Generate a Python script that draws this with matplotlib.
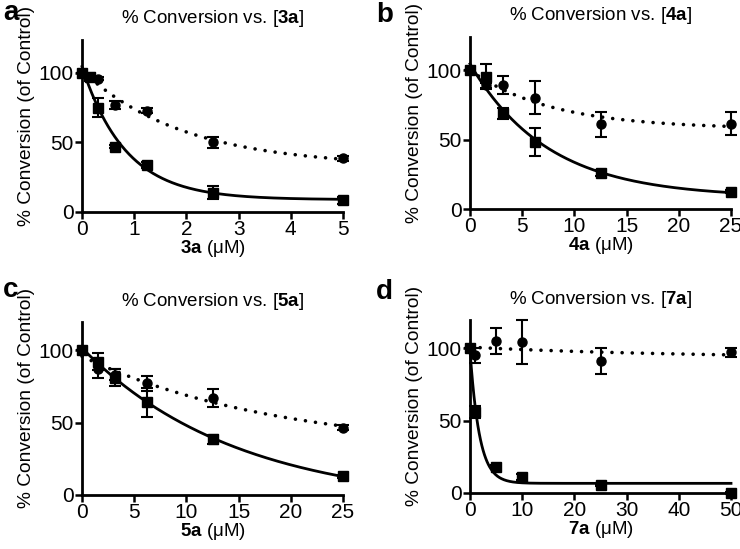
import numpy as np
import matplotlib
matplotlib.use('Agg')
import matplotlib.pyplot as plt

plt.rcParams['font.family'] = ['Liberation Sans', 'DejaVu Sans']
plt.rcParams['mathtext.fontset'] = 'custom'
plt.rcParams['mathtext.rm'] = 'Liberation Sans'
plt.rcParams['mathtext.bf'] = 'Liberation Sans:bold'

# ---------------- data ----------------
panel_letters = ['a', 'b', 'c', 'd']
compounds = ['3a', '4a', '5a', '7a']

conc_a = [0, 0.156, 0.3125, 0.625, 1.25, 2.5, 5]
sq_a = [100, 97, 75, 47, 34, 14, 8.5]
sq_err_a = [0, 3, 7, 1, 2, 5, 2.5]
ci_a = [100, 97, 96, 77, 73, 50, 38.5]
ci_err_a = [0, 1, 1, 3, 2, 4, 2]

conc_b = [0, 1.5625, 3.125, 6.25, 12.5, 25]
sq_b = [100, 95, 69, 48, 26, 12.5]
sq_err_b = [0, 9, 4, 10, 2, 1]
ci_b = [100, 89, 89, 80, 61, 61.5]
ci_err_b = [0, 2, 6.5, 12, 9, 8]

conc_c = [0, 1.5625, 3.125, 6.25, 12.5, 25]
sq_c = [100, 92, 81, 64, 38.5, 13]
sq_err_c = [0, 6, 6, 10, 3, 1]
ci_c = [100, 87, 83, 77, 67, 46.5]
ci_err_c = [0, 6, 4, 5, 6, 2]

conc_d = [0, 1, 5, 10, 25, 50]
sq_d = [100, 56, 18, 11, 5.5, 0]
sq_err_d = [0, 4, 1, 2, 1, 1]
ci_d = [100, 95, 105, 104, 91, 97]
ci_err_d = [0, 5, 9, 15, 9, 3]

xticks_a = [0, 1, 2, 3, 4, 5]
xticks_bc = [0, 5, 10, 15, 20, 25]
xticks_d = [0, 10, 20, 30, 40, 50]
yticks = [0, 50, 100]

panels = [
    (conc_a, sq_a, sq_err_a, ci_a, ci_err_a, xticks_a),
    (conc_b, sq_b, sq_err_b, ci_b, ci_err_b, xticks_bc),
    (conc_c, sq_c, sq_err_c, ci_c, ci_err_c, xticks_bc),
    (conc_d, sq_d, sq_err_d, ci_d, ci_err_d, xticks_d),
]

# ---------------- layout (pixels) ----------------
W, H = 740, 549
# left px, right px, y=0 px, y=100 px, ymax
geom = [
    (82, 343, 212, 73, 124),
    (470, 731, 209, 70, 124),
    (82, 343, 495, 350, 119),
    (470, 731, 493, 348, 119),
]
letter_pos = [(3, 13), (376, 15), (3, 290), (376, 292)]


def fit_decay(x, y):
    """One-phase exponential decay fit: y = P + (Y0 - P) exp(-k x)."""
    x = np.asarray(x, float)
    y = np.asarray(y, float)
    best = None
    for k in np.logspace(-3, 1.5, 3000):
        e = np.exp(-k * x)
        A = np.column_stack([1 - e, e])
        coef = np.linalg.lstsq(A, y, rcond=None)[0]
        sse = np.sum((A @ coef - y) ** 2)
        if best is None or sse < best[0]:
            best = (sse, k, coef)
    return best[1], best[2]


fig = plt.figure(figsize=(W / 100, H / 100), dpi=100)

for i, (conc, sq, sqe, ci, cie, xt) in enumerate(panels):
    l, r, y0, y100, ymax = geom[i]
    pxu = (y0 - y100) / 100.0
    top = y0 - ymax * pxu
    ax = fig.add_axes([l / W, (H - y0) / H, (r - l) / W, (y0 - top) / H])
    xmax = xt[-1]
    xs = np.linspace(0, xmax, 400)

    k, (P, Y0) = fit_decay(conc, sq)
    ax.plot(xs, P + (Y0 - P) * np.exp(-k * xs), color='black', lw=2.0,
            clip_on=False, zorder=2)
    k2, (P2, Y02) = fit_decay(conc, ci)
    ax.plot(xs, P2 + (Y02 - P2) * np.exp(-k2 * xs), color='black', lw=2.6,
            linestyle=(0, (0.01, 2.8)), dash_capstyle='round', clip_on=False, zorder=2)

    ax.errorbar(conc, ci, yerr=cie, fmt='none', ecolor='black', elinewidth=1.5,
                capsize=4, capthick=1.5, clip_on=False, zorder=3)
    ax.errorbar(conc, sq, yerr=sqe, fmt='none', ecolor='black', elinewidth=1.5,
                capsize=4, capthick=1.5, clip_on=False, zorder=3)
    ax.plot(conc, ci, 'o', color='black', ms=6.5, clip_on=False, zorder=4)
    ax.plot(conc, sq, 's', color='black', ms=7, clip_on=False, zorder=5)

    ax.set_xlim(0, xmax)
    ax.set_ylim(0, ymax)
    ax.set_xticks(xt)
    ax.set_yticks(yticks)
    for s in ['top', 'right']:
        ax.spines[s].set_visible(False)
    for s in ['left', 'bottom']:
        ax.spines[s].set_linewidth(2)
    ax.tick_params(direction='out', length=5, width=1.8, labelsize=15, pad=1)

    ax.set_title('% Conversion vs. [$\\mathbf{' + compounds[i] + '}$]',
                 fontsize=13.5, pad=12)
    ax.set_xlabel('$\\mathbf{' + compounds[i] + '}$ (\u03bcM)', fontsize=13.5, labelpad=-1)
    ax.set_ylabel('% Conversion (of Control)', fontsize=13.8)
    ax.yaxis.set_label_coords((35 - 82) / (r - l), 0.56)

    lx, ly = letter_pos[i]
    fig.text(lx / W, 1 - ly / H, panel_letters[i], fontsize=20, fontweight='bold',
             va='center', ha='left')

fig.savefig('out.png', dpi=100)
